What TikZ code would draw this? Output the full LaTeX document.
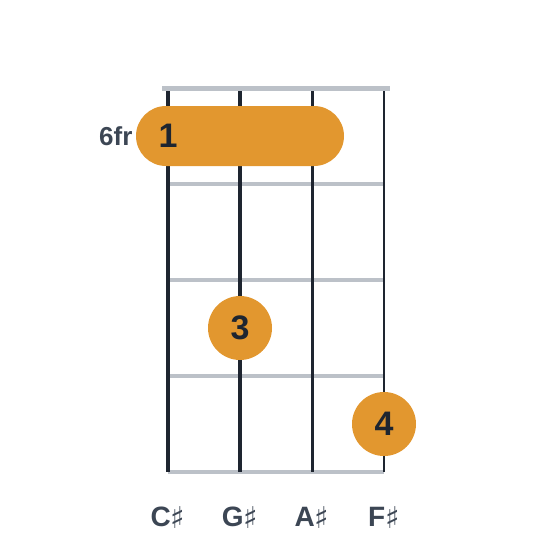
\documentclass[tikz,border=0pt]{standalone}
\usepackage{fontspec}
\setmainfont{Liberation Sans}
\newfontfamily\sharpfont{DejaVu Sans}
\definecolor{fingerorange}{HTML}{E2972F}
\definecolor{stringdark}{HTML}{1E2530}
\definecolor{fretgray}{HTML}{BCC1C8}
\definecolor{labelgray}{HTML}{3C4654}
\tikzset{
  fretline/.style={draw=fretgray,line width=3.5pt},
  stringline/.style={draw=stringdark},
  finger/.style={circle,fill=fingerorange,minimum size=64pt,inner sep=0pt,
    text=stringdark,font=\bfseries\fontsize{34}{34}\selectfont},
  notename/.style={text=labelgray,font=\bfseries\fontsize{28}{28}\selectfont},
}
\newcommand{\shp}{\raisebox{-2pt}{\sharpfont\mdseries\fontsize{30}{30}\selectfont ♯}}
\begin{document}
\begin{tikzpicture}[x=1pt,y=-1pt]
        \useasboundingbox (0,0) rectangle (560,560);
        %% Frets
        \foreach \fy in {184,280,376,472}
            \draw[fretline] (168,\fy) -- (384,\fy);
        %% Strings
        \draw[stringline,line width=4pt] (168,88) -- (168,472);
        \draw[stringline,line width=3.4pt] (240,88) -- (240,472);
        \draw[stringline,line width=3pt] (312,88) -- (312,472);
        \draw[stringline,line width=2.4pt] (384,88) -- (384,472);
        %% Nut
        \draw[fretline,line width=5pt] (162,88) -- (390,88);
        %% Barre
        \draw[fill=fingerorange,draw=none,rounded corners=30pt] (136,106) rectangle (344,166);
        \node[text=stringdark,font=\bfseries\fontsize{34}{34}\selectfont] (barre) at (168,136) {1};
        \node[anchor=east,notename,font=\bfseries\fontsize{26}{26}\selectfont] (pos) at (136,136) {6fr};
        %% Fingers
        \node[finger] (ring) at (240,328) {3};
        \node[finger] (pinky) at (384,424) {4};
        %% String names
        \node[notename] (s1) at (168,518) {C\shp};
        \node[notename] (s2) at (240,518) {G\shp};
        \node[notename] (s3) at (312,518) {A\shp};
        \node[notename] (s4) at (384,518) {F\shp};
    \end{tikzpicture}
\end{document}
